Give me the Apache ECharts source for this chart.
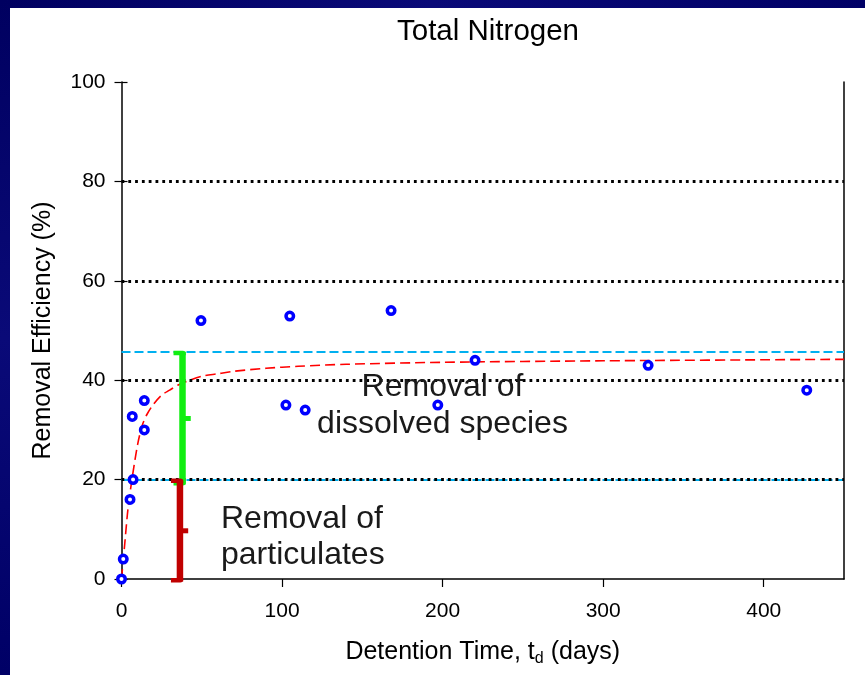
<!DOCTYPE html>
<html><head><meta charset="utf-8">
<script src="https://cdn.jsdelivr.net/npm/echarts@6/dist/echarts.min.js"></script>
<style>html,body{margin:0;padding:0;background:#fff}#c{width:865px;height:675px}</style>
</head><body><div id="c"></div>
<script>
// observed data (detention time in days, removal efficiency %)
const obsDays = [0, 1.1, 5.3, 7.2, 6.7, 14.2, 14.2, 49.5, 102.4, 104.8, 114.4, 167.9, 197, 220.2, 328, 426.8];
const obsEff  = [0, 4, 16, 20, 32.7, 35.9, 30, 52, 35, 52.9, 34, 54, 35, 44, 43, 38];
// fitted curve
const fitDays = [0, 2, 4, 6.5, 10, 13, 16, 20, 25, 30, 35, 40, 50, 60, 70, 90, 110, 140, 200, 300, 450];
const fitEff  = [0, 7, 14, 20, 27, 31, 33.2, 35.2, 37, 38, 39, 39.7, 40.8, 41.3, 41.8, 42.4, 42.8, 43.2, 43.6, 43.9, 44.2];
// reference levels
const gridLevels = [20, 40, 60, 80];
const dissolvedLevel = [45.7];
const particulateLevel = [20];
// braces: [x, top, middle, bottom]
const dissolvedBrace = [38, 45.7, 32.3, 19];
const particulateBrace = [36.4, 20, 9.7, -0.5];
// ticks
const xTicks = [0, 100, 200, 300, 400];
const yTicks = [0, 20, 40, 60, 80, 100];

const FONT = "'Liberation Sans', Arial, sans-serif";
const chart = echarts.init(document.getElementById('c'), null, {renderer: 'canvas'});

function braceRender(params, api) {
  const x = api.value(0), top = api.value(1), mid = api.value(2), bot = api.value(3);
  const pT = api.coord([x, top]), pM = api.coord([x, mid]), pB = api.coord([x, bot]);
  const w = 6.5, cx = pT[0];
  const color = api.visual('color');
  return {type: 'group', children: [
    {type: 'rect', shape: {x: cx - w / 2, y: pT[1], width: w, height: pB[1] - pT[1]}, style: {fill: color}},
    {type: 'rect', shape: {x: cx - 9, y: pT[1] - 1, width: 9 + w / 2, height: 4.5, r: [0, 3, 0, 0]}, style: {fill: color}},
    {type: 'rect', shape: {x: cx - 9, y: pB[1] - 3.5, width: 9 + w / 2, height: 4.5, r: [0, 0, 3, 0]}, style: {fill: color}},
    {type: 'rect', shape: {x: cx, y: pM[1] - 2.5, width: w / 2 + 5, height: 5}, style: {fill: color}}
  ]};
}

const navy = new echarts.graphic.LinearGradient(0, 0, 1, 1, [
  {offset: 0, color: '#000060'}, {offset: 0.5, color: '#0a0a78'}, {offset: 1, color: '#000066'}
]);

chart.setOption({
  backgroundColor: '#ffffff',
  animation: false,
  title: {
    text: 'Total Nitrogen', left: 483, top: 12, textAlign: 'center',
    textStyle: {fontSize: 29.5, fontWeight: 'normal', color: '#000', fontFamily: FONT}
  },
  graphic: [
    {type: 'rect', left: 0, top: 0, shape: {width: 865, height: 8}, style: {fill: navy}, silent: true},
    {type: 'rect', left: 0, top: 0, shape: {width: 10, height: 675}, style: {fill: navy}, silent: true},
    {type: 'text', x: 442.5, y: 405.5, style: {text: 'Removal of\ndissolved species', font: '32px ' + FONT, fill: '#1a1a1a', align: 'center', verticalAlign: 'middle', lineHeight: 37}, z: 20},
    {type: 'text', x: 221, y: 537.5, style: {text: 'Removal of\nparticulates', font: '32px ' + FONT, fill: '#1a1a1a', align: 'left', verticalAlign: 'middle', lineHeight: 36}, z: 20}
  ],
  grid: {left: 121.5, right: 21, top: 82, bottom: 96},
  xAxis: {
    type: 'value', min: 0, max: 450, interval: 100,
    name: 'Detention Time, t{sub|d} (days)', nameLocation: 'middle', nameGap: 58,
    nameTextStyle: {fontSize: 25, color: '#000', fontFamily: FONT,
      rich: {sub: {fontSize: 16, verticalAlign: 'bottom', padding: [14, 0, 0, 0], color: '#000', fontFamily: FONT}}},
    axisLine: {show: true, onZero: false, lineStyle: {color: '#000', width: 1.5}},
    axisTick: {show: true, inside: false, length: 8, customValues: xTicks, lineStyle: {color: '#000', width: 1.2}},
    axisLabel: {fontSize: 21, color: '#000', fontFamily: FONT, margin: 22, customValues: xTicks},
    splitLine: {show: false}
  },
  yAxis: [
    {
      type: 'value', min: 0, max: 100, interval: 20, position: 'left',
      name: 'Removal Efficiency (%)', nameLocation: 'middle', nameGap: 66, nameRotate: 90,
      nameTextStyle: {fontSize: 25, color: '#000', fontFamily: FONT},
      axisLine: {show: true, onZero: false, lineStyle: {color: '#000', width: 1.5}},
      axisTick: {show: true, length: 7, customValues: yTicks, lineStyle: {color: '#000', width: 1.2}},
      axisLabel: {fontSize: 21, color: '#000', fontFamily: FONT, margin: 16, customValues: yTicks},
      splitLine: {show: false}
    },
    {
      type: 'value', min: 0, max: 100, interval: 20, position: 'right',
      axisLine: {show: true, onZero: false, lineStyle: {color: '#000', width: 1.5}},
      axisTick: {show: false}, axisLabel: {show: false}, splitLine: {show: false}
    },
    {
      type: 'value', min: 0, max: 100, interval: 20, position: 'left',
      axisLine: {show: false},
      axisTick: {show: true, inside: true, length: 6, customValues: yTicks, lineStyle: {color: '#000', width: 1.2}},
      axisLabel: {show: false}, splitLine: {show: false}
    }
  ],
  series: [
    {
      type: 'line', data: [], silent: true, z: 2,
      markLine: {silent: true, symbol: 'none', label: {show: false}, animation: false,
        lineStyle: {color: '#00B0F0', width: 2.2, type: [9, 4]},
        data: dissolvedLevel.concat(particulateLevel).map(v => ({yAxis: v}))}
    },
    {
      type: 'line', data: [], silent: true, z: 3,
      markLine: {silent: true, symbol: 'none', label: {show: false}, animation: false,
        lineStyle: {color: '#000', width: 2.8, type: [2.8, 4]},
        data: gridLevels.map(v => ({yAxis: v}))}
    },
    {
      type: 'line', smooth: 0.3, showSymbol: false, z: 4,
      data: fitDays.map((d, i) => [d, fitEff[i]]),
      lineStyle: {color: '#FF0000', width: 1.6, type: [10, 5]}
    },
    {
      type: 'custom', renderItem: braceRender, clip: false, z: 5,
      itemStyle: {color: '#11EE11'},
      encode: {x: 0, y: [1, 3]},
      data: [dissolvedBrace]
    },
    {
      type: 'custom', renderItem: braceRender, clip: false, z: 5,
      itemStyle: {color: '#C00000'},
      encode: {x: 0, y: [1, 3]},
      data: [particulateBrace]
    },
    {
      type: 'scatter', z: 10, symbol: 'circle', symbolSize: 7.5, clip: false,
      itemStyle: {color: '#ffffff', borderColor: '#0000FF', borderWidth: 3.5, opacity: 1},
      data: obsDays.map((d, i) => [d, obsEff[i]])
    }
  ]
});
</script>
</body></html>
